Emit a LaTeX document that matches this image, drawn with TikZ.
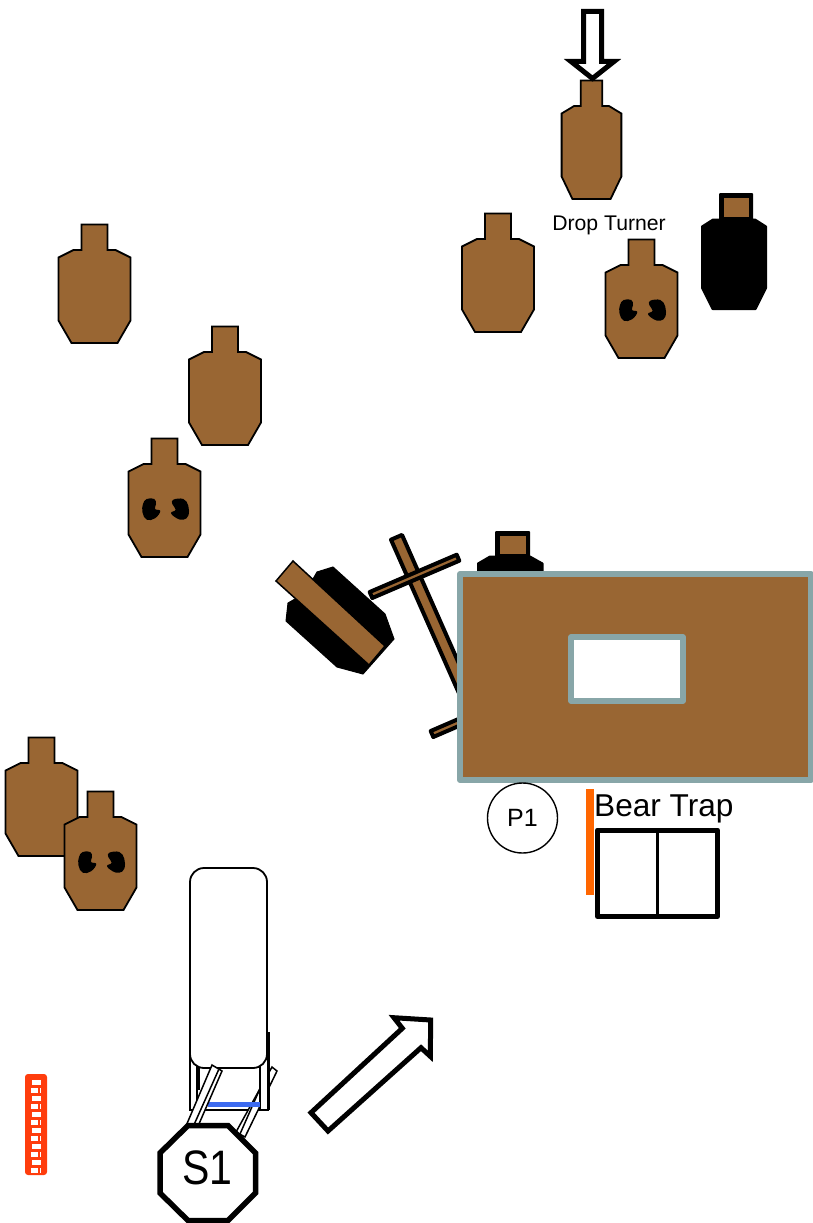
\documentclass[tikz,border=0pt]{standalone}
\usepackage{fontspec}
\setmainfont{Liberation Sans}
\definecolor{targetbrown}{HTML}{996633}
\definecolor{wallgrey}{HTML}{88A6A8}
\definecolor{trapgreen}{HTML}{FF6600}
\definecolor{stripred}{HTML}{FF3D0D}
\definecolor{faultblue}{HTML}{3D6BF0}
\tikzset{
  paper/.style={draw=black, line width=1.8pt, fill=targetbrown, line join=miter},
  noshoot/.style={draw=black, line width=2pt, fill=black, line join=round},
  timber/.style={draw=black, line width=4pt, fill=targetbrown, line join=round},
  rail/.style={draw=black, line width=4pt, fill=targetbrown, line join=round},
  wall/.style={draw=wallgrey, line width=6pt, line join=round},
  plank/.style={draw=black, line width=1.5pt, fill=white},
  bigarrow/.style={draw=black, line width=5pt, fill=white, line join=miter},
  target/.pic={
    \path[pic actions] (-13,0) -- (13,0) -- (13,25.5) -- (21,25.5) -- (36,33) -- (36,96)
      -- (23,118.5) -- (-23,118.5) -- (-36,96) -- (-36,33) -- (-21,25.5) -- (-13,25.5) -- cycle;
  },
  holes/.pic={
    \fill[black] plot[smooth cycle, tension=0.7] coordinates {(-17.8,61) (-10.2,61) (-8.5,66) (-9.5,71) (-4.2,73) (-9.5,80.3) (-17.8,81.7) (-22,74.3) (-21.5,66)};
    \fill[black] plot[smooth cycle, tension=0.7] coordinates {(8.8,61.7) (18.8,61) (23.8,67.7) (23.8,77.7) (18.8,81.7) (12.2,80.3) (6.5,75) (11.2,71.7) (7.8,66)};
  }
}
\begin{document}
\begin{tikzpicture}[x=1pt, y=-1pt]
  \useasboundingbox (0,0) rectangle (813,1223);

  % paper targets
  \pic[paper] at (94.5,224.5) {target};
  \pic[paper] at (225,326.5) {target};
  \pic[paper] at (164.5,438.5) {target};
  \pic at (164.5,438) {holes};
  \pic[paper] at (41.5,737.5) {target};
  \pic[paper] at (100.5,791.5) {target};
  \pic at (100.5,791) {holes};
  \pic[paper] at (498,213.5) {target};
  \pic[paper] at (641.5,239.5) {target};
  \pic at (641.5,239) {holes};
  \pic[paper, xscale=0.83] at (591.5,80.5) {target};

  % black targets
  \draw[noshoot] (720,194) -- (752,194) -- (752,219.5) -- (755,219.5) -- (766,226.5) -- (766,288)
    -- (755.5,309) -- (712.5,309) -- (702,288) -- (702,226.5) -- (713,219.5) -- (720,219.5) -- cycle;
  \fill[targetbrown] (724,198) rectangle (749,217);
  \draw[noshoot] (496,532) -- (529,532) -- (529,556.5) -- (530,556.5) -- (542.5,563.5) -- (542.5,580)
    -- (478,580) -- (478,563.5) -- (490,556.5) -- (496,556.5) -- cycle;
  \fill[targetbrown] (500,536) rectangle (526,554);

  % turned target
  \draw[draw=black, line width=1pt, fill=black] (313,579) -- (317,572) -- (333,567) -- (385,614) -- (394,639) -- (363,674) -- (337,667)
    -- (286,621) -- (288,603) -- (295,599) -- cycle;
  \draw[draw=black, line width=1.5pt, fill=targetbrown] (293,561) -- (276,581) -- (369,665) -- (385,646) -- cycle;

  % swinger
  \draw[timber] (402,534.9) -- (483,717.9) -- (472,722.7) -- (391,539.7) -- cycle;
  \draw[rail] (369.7,592) -- (456.7,554.7) -- (459.3,560.7) -- (372.3,598) -- cycle;
  \draw[rail] (430.7,731) -- (518.7,693) -- (521.3,699) -- (433.3,737) -- cycle;

  % barricade
  \draw[wall, fill=targetbrown] (460,574) rectangle (811,780);
  \draw[wall, line width=5.4pt, fill=white] (571,637) rectangle (683,701);

  % popper
  \node[draw=black, line width=1.4pt, circle, minimum size=70pt, inner sep=0pt, font=\fontsize{25}{25}\selectfont] (popper) at (522.5,818) {P1};

  % bear trap
  \fill[trapgreen] (586,789) rectangle (594,895);
  \draw[draw=black, line width=5pt, line join=round] (597.5,830) rectangle (717.5,916.5);
  \draw[draw=black, line width=3pt] (657,830) -- (657,916.5);
  \node[anchor=base west, inner sep=0pt, font=\fontsize{31.6}{31.6}\selectfont] (trap) at (594,816.5) {Bear Trap};

  % start box
  \draw[plank] (190,1040) rectangle (268,1110);
  \draw[plank] (277,1071) -- (272,1067) -- (236,1132) -- (245,1137) -- cycle;
  \draw[black, line width=1.5pt] (262,1084) -- (240,1134);
  \draw[plank] (190,1040) rectangle (197,1110);
  \draw[plank] (260,1040) rectangle (268,1110);
  \draw[black, line width=2.5pt] (198.7,1060) -- (198.7,1090);
  \draw[black, line width=2.5pt] (268.5,1032) -- (268.5,1110);
  \draw[faultblue, line width=5pt] (208,1104.5) -- (260,1104.5);
  \draw[draw=black, line width=1.8pt, fill=white, rounded corners=14pt] (190,868) rectangle (267,1068);
  \draw[plank] (212,1065) -- (222,1071) -- (192,1140) -- (183,1133) -- cycle;
  \draw[black, line width=1.5pt] (218.5,1070) -- (188.5,1137);

  % start position
  \draw[draw=black, line width=5.5pt, fill=white, line join=miter] (188,1125.5) -- (228,1125.5) -- (255.5,1153) -- (255.5,1193)
    -- (228,1220.5) -- (188,1220.5) -- (160,1193) -- (160,1153) -- cycle;
  \node[font=\fontsize{41}{41}\selectfont] (start) at (207.5,1168) {\scalebox{1}[1.18]{S1}};

  % hardcover strip
  \fill[stripred, rounded corners=3pt] (25,1074) rectangle (47,1175);
  \foreach \row in {0,2,...,10} {
    \fill[white] (32,{1079.5+8*\row}) rectangle (41,{1085+8*\row});
    \fill[white] (31,{1087.5+8*\row}) rectangle (38,{1093+8*\row});
    \fill[white] (39.5,{1087.5+8*\row}) rectangle (41,{1093+8*\row});
  }

  % arrows
  \draw[bigarrow] (583.5,11.5) -- (601.5,11.5) -- (601.5,61.5) -- (614,61.5) -- (592.5,78.5) -- (571,61.5) -- (583.5,61.5) -- cycle;
  \draw[bigarrow] (430.7,1020) -- (394,1017.7) -- (402.3,1028.3) -- (311,1112.7) -- (328,1131) -- (421,1047.7) -- (430.3,1056.3) -- cycle;

  \node[font=\fontsize{21.2}{21.2}\selectfont] (turner) at (609,225.5) {Drop Turner};
\end{tikzpicture}
\end{document}
